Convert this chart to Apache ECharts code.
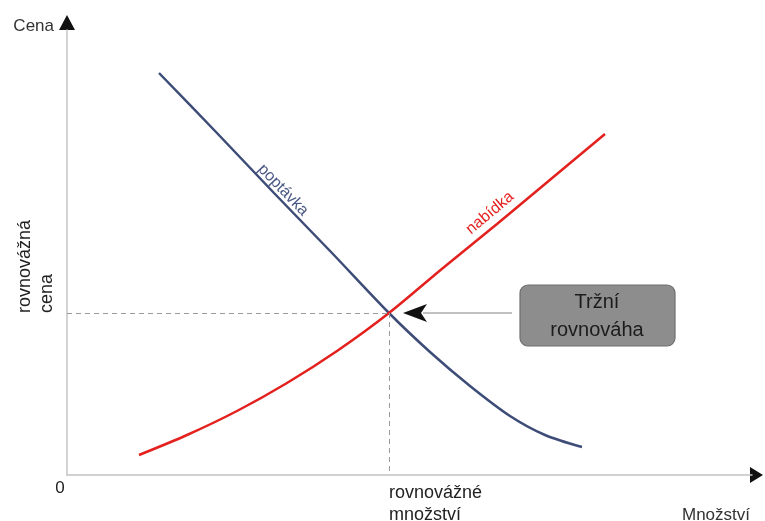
<!DOCTYPE html>
<html><head><meta charset="utf-8">
<script src="https://cdn.jsdelivr.net/npm/echarts@6/dist/echarts.min.js"></script>
<style>html,body{margin:0;padding:0;background:#fff}#c{width:765px;height:521px}</style>
</head><body><div id="c"></div>
<script>
// Data (x = quantity units, y = price units)
const demandX = [92, 149, 207, 265, 322, 363, 403, 443, 478, 515];
const demandY = [402, 343, 282, 222, 162, 123, 89, 59, 40, 28];
const supplyX = [72, 120, 170, 220, 270, 322, 376, 430, 484, 538];
const supplyY = [20, 40, 64, 92, 124, 162, 207, 251, 296, 341];
const eqQuantity = 322;
const eqPrice = 162;
const axisMaxX = 685;
const axisMaxY = 445;
const xTickLabels = ['0', 'rovnovážné\nmnožství'];
const yTickLabels = ['rovnovážná\ncena'];
const axisNames = ['Množství', 'Cena'];
const curveNames = ['poptávka', 'nabídka'];
const boxText = 'Tržní\nrovnováha';
const demandLabelAt = [216, 285];
const supplyLabelAt = [423, 262];

const FONT = '"Liberation Sans", Arial, sans-serif';
const chart = echarts.init(document.getElementById('c'), null, {renderer: 'canvas'});
const zip = (a, b) => a.map((v, i) => [v, b[i]]);

chart.setOption({
  animation: false,
  grid: {left: 67, right: 13, top: 30, bottom: 46},
  xAxis: {type: 'value', min: 0, max: axisMaxX,
    axisLine: {show: true, onZero: false, lineStyle: {color: '#c4c4c4', width: 1.5}},
    axisTick: {show: false}, axisLabel: {show: false}, splitLine: {show: false}},
  yAxis: {type: 'value', min: 0, max: axisMaxY,
    axisLine: {show: true, onZero: false, lineStyle: {color: '#c4c4c4', width: 1.5}},
    axisTick: {show: false}, axisLabel: {show: false}, splitLine: {show: false}},
  series: [
    {name: curveNames[0], type: 'line', data: zip(demandX, demandY), smooth: 0.3,
      showSymbol: false, lineStyle: {color: '#3e4d78', width: 2.5}, z: 3},
    {name: curveNames[1], type: 'line', data: zip(supplyX, supplyY), smooth: 0.3,
      showSymbol: false, lineStyle: {color: '#e3211e', width: 2.5}, z: 4,
      markLine: {silent: true, symbol: 'none', label: {show: false},
        lineStyle: {color: '#9a9a9a', width: 1, type: [5, 4]},
        data: [[{coord: [0, eqPrice]}, {coord: [eqQuantity, eqPrice]}],
               [{coord: [eqQuantity, eqPrice]}, {coord: [eqQuantity, 0]}]]}}
  ]
});

const p = (x, y) => chart.convertToPixel({gridIndex: 0}, [x, y]);
const O = p(0, 0), T = p(0, axisMaxY), R = p(axisMaxX, 0), E = p(eqQuantity, eqPrice);
const D = p(demandLabelAt[0], demandLabelAt[1]), S = p(supplyLabelAt[0], supplyLabelAt[1]);
const txt = (x, y, text, extra) => ({type: 'text', x, y, style: Object.assign({text, font: '17px ' + FONT, fill: '#222'}, extra || {})});

chart.setOption({graphic: [
  {type: 'polygon', shape: {points: [[T[0] - 8, T[1]], [T[0] + 8, T[1]], [T[0], T[1] - 15]]}, style: {fill: '#111'}},
  {type: 'polygon', shape: {points: [[R[0] - 2, R[1] - 8], [R[0] - 2, R[1] + 8], [R[0] + 11, R[1]]]}, style: {fill: '#111'}},
  txt(T[0] - 13, T[1] - 4, axisNames[1], {align: 'right', verticalAlign: 'middle', fill: '#333'}),
  txt(R[0] - 2, O[1] + 40, axisNames[0], {align: 'right', verticalAlign: 'middle', fill: '#333'}),
  txt(O[0] - 7, O[1] + 13, xTickLabels[0], {align: 'center', verticalAlign: 'middle'}),
  txt(E[0], O[1] + 29, xTickLabels[1], {align: 'left', verticalAlign: 'middle', lineHeight: 22, font: '18px ' + FONT}),
  Object.assign(txt(36, E[1], yTickLabels[0], {align: 'left', verticalAlign: 'middle', lineHeight: 22, font: '18px ' + FONT}), {rotation: Math.PI / 2}),
  Object.assign(txt(D[0], D[1], curveNames[0], {align: 'center', verticalAlign: 'middle', fill: '#4a5884', font: '16px ' + FONT}), {rotation: -46 * Math.PI / 180}),
  Object.assign(txt(S[0], S[1], curveNames[1], {align: 'center', verticalAlign: 'middle', fill: '#e3211e', font: '16px ' + FONT}), {rotation: 40 * Math.PI / 180}),
  {type: 'line', shape: {x1: E[0] + 34, y1: E[1], x2: E[0] + 123, y2: E[1]}, style: {stroke: '#adadad', lineWidth: 1.5}},
  {type: 'polygon', shape: {points: [[E[0] + 14, E[1]], [E[0] + 38, E[1] - 9], [E[0] + 32, E[1]], [E[0] + 38, E[1] + 9]]}, style: {fill: '#111'}},
  {type: 'rect', shape: {x: E[0] + 131, y: E[1] - 28, width: 155, height: 61, r: 8}, style: {fill: '#8d8d8d', stroke: '#6f6f6f', lineWidth: 1.2}},
  txt(E[0] + 208, E[1] + 3, boxText, {align: 'center', verticalAlign: 'middle', lineHeight: 28, font: '20px ' + FONT, fill: '#1c1c1c'})
]});
</script></body></html>
